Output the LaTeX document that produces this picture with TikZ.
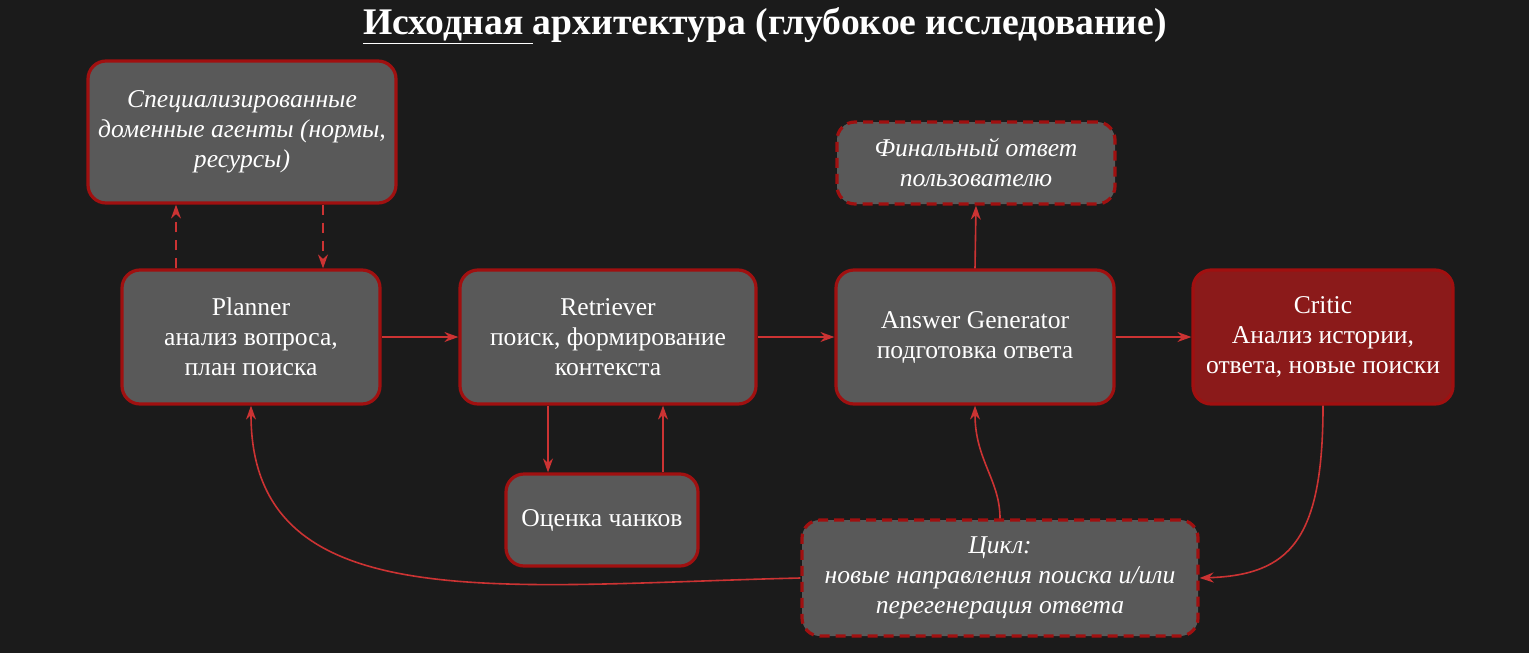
\documentclass[tikz,border=0pt]{standalone}
\usepackage{fontspec}
\setmainfont{Liberation Serif}
\usetikzlibrary{arrows.meta,positioning}
\definecolor{bgdark}{RGB}{27,27,27}
\definecolor{boxgray}{RGB}{89,89,89}
\definecolor{boxred}{RGB}{160,16,16}
\definecolor{criticred}{RGB}{139,26,26}
\definecolor{arrred}{RGB}{204,51,51}
\tikzset{
  box/.style={draw=boxred, line width=1.6pt, fill=boxgray, rounded corners=9pt,
    text=white, align=center, font=\fontsize{12.8}{15}\selectfont, inner sep=0pt},
  dbox/.style={box, dash pattern=on 5pt off 3pt},
  link/.style={arrred, line width=0.8pt, -{Stealth[length=7pt,width=5pt]}},
}
\begin{document}
\begin{tikzpicture}[x=0.5pt,y=-0.5pt]
\fill[bgdark] (0,0) rectangle (1529,653);
\useasboundingbox (0,0) rectangle (1529,653);
% title
\node[text=white, font=\bfseries\fontsize{18.8}{22}\selectfont] (title) at (765,26)
  {\underline{Исходная }архитектура (глубокое исследование)};
% boxes
\node[box, minimum width=154pt, minimum height=71pt, font=\itshape\fontsize{12.8}{15}\selectfont] (spec) at (242,132)
  {Специализированные\\доменные агенты (нормы,\\ресурсы)};
\node[dbox, minimum width=139pt, minimum height=41pt, font=\itshape\fontsize{12.8}{15}\selectfont] (final) at (976,163)
  {Финальный ответ\\пользователю};
\node[box, minimum width=129pt, minimum height=67pt] (planner) at (251,337)
  {Planner\\анализ вопроса,\\план поиска};
\node[box, minimum width=148pt, minimum height=67pt] (retriever) at (608,337)
  {Retriever\\поиск, формирование\\контекста};
\node[box, minimum width=139pt, minimum height=67pt] (answer) at (975,337)
  {Answer Generator\\подготовка ответа};
\node[box, fill=criticred, minimum width=130pt, minimum height=67pt] (critic) at (1323,337)
  {Critic\\Анализ истории,\\ответа, новые поиски};
\node[box, minimum width=96pt, minimum height=46pt] (chunks) at (602,520)
  {Оценка чанков};
\node[dbox, minimum width=198pt, minimum height=58pt, font=\itshape\fontsize{12.8}{15}\selectfont] (cycle) at (1000,578)
  {Цикл:\\новые направления поиска и/или\\перегенерация ответа};
% connectors
\draw[link] (planner) -- (retriever);
\draw[link] (retriever) -- (answer);
\draw[link] (answer) -- (critic);
\draw[link] (answer.north) -- (final.south);
\draw[link] (retriever.south -| 548,0) -- (chunks.north -| 548,0);
\draw[link] (chunks.north -| 663,0) -- (retriever.south -| 663,0);
\draw[link, dash pattern=on 5pt off 4pt] (planner.north -| 176,0) -- (spec.south -| 176,0);
\draw[link, dash pattern=on 5pt off 4pt] (spec.south -| 323,0) -- (planner.north -| 323,0);
\draw[link] (critic.south) .. controls (1323,540) and (1290,575) .. (cycle.east);
\draw[link] (cycle.north) .. controls (1000,480) and (975,460) .. (answer.south);
\draw[link] (cycle.west) .. controls (500,585) and (251,620) .. (planner.south);
\end{tikzpicture}
\end{document}
